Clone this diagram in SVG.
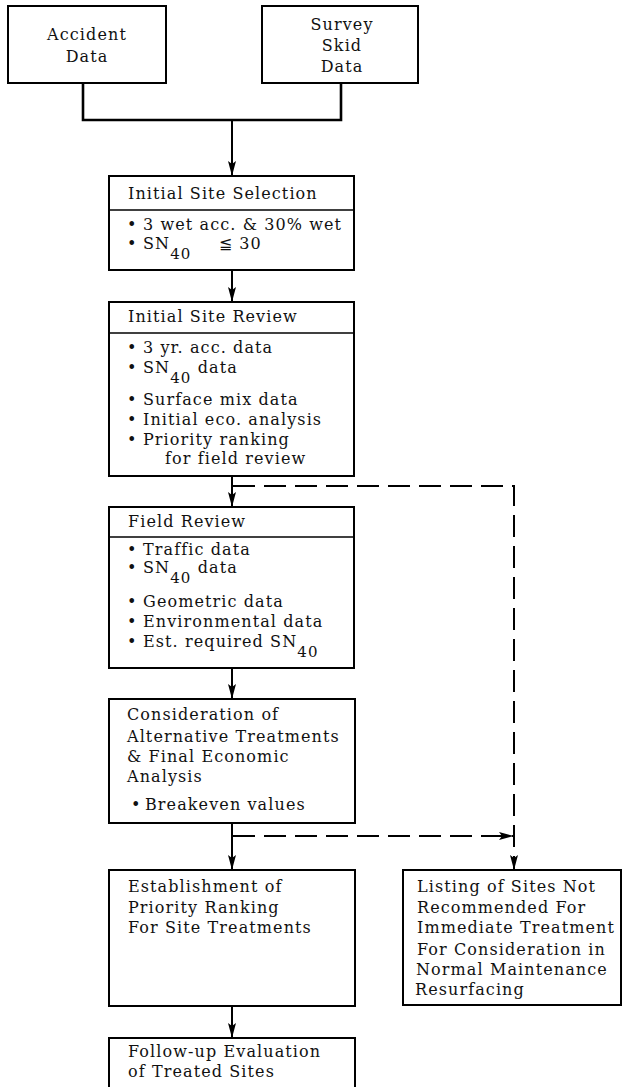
<svg xmlns="http://www.w3.org/2000/svg" width="623" height="1087" viewBox="0 0 623 1087">
<style>
  rect.box { fill: #fff; stroke: #000; stroke-width: 2; }
  line.div { stroke: #000; stroke-width: 1.5; }
  text { font-family: "DejaVu Serif", "Liberation Serif", serif; font-size: 16px; fill: #111; letter-spacing: 1.1px; }
  text.c { text-anchor: middle; }
  tspan.sub { font-size: 15px; }
  .conn { fill: none; stroke: #000; stroke-width: 2; }
  .thick { stroke-width: 2.6; }
  .dash { fill: none; stroke: #000; stroke-width: 2; stroke-dasharray: 22 9; }
</style>
<defs>
  <marker id="arr" markerUnits="userSpaceOnUse" markerWidth="16" markerHeight="10" refX="15" refY="4" orient="auto">
    <path d="M0,0 L15,4 L0,8 L3,4 z" fill="#000"/>
  </marker>
</defs>

<g id="connectors">
  <path class="conn thick" d="M83,83 V120 H341 V83"/>
  <path class="conn" d="M232,120 V176" marker-end="url(#arr)"/>
  <path class="conn" d="M232,270 V302" marker-end="url(#arr)"/>
  <path class="conn" d="M232,476 V507" marker-end="url(#arr)"/>
  <path class="conn" d="M232,668 V699" marker-end="url(#arr)"/>
  <path class="conn" d="M232,823 V870" marker-end="url(#arr)"/>
  <path class="conn" d="M232,1006 V1038" marker-end="url(#arr)"/>
  <path class="dash" d="M233,486 H514 V870" marker-end="url(#arr)"/>
  <path class="dash" d="M233,836 H514" marker-end="url(#arr)"/>
</g>

<g id="accident-data">
  <rect class="box" x="8" y="6" width="158" height="77"/>
  <text class="c" x="87" y="40">Accident</text>
  <text class="c" x="87" y="62">Data</text>
</g>

<g id="survey-skid-data">
  <rect class="box" x="262" y="6" width="156" height="77"/>
  <text class="c" x="342" y="30">Survey</text>
  <text class="c" x="342" y="51">Skid</text>
  <text class="c" x="342" y="72">Data</text>
</g>

<g id="initial-site-selection">
  <rect class="box" x="109" y="176" width="245" height="94"/>
  <line class="div" x1="109" y1="210" x2="354" y2="210"/>
  <text x="128" y="199">Initial Site Selection</text>
  <text x="127" y="230">•</text>
  <text x="143" y="230">3 wet acc. &amp; 30% wet</text>
  <text x="127" y="249">•</text>
  <text x="143" y="249">SN<tspan class="sub" dy="10">40</tspan></text>
  <text x="219" y="249">≦ 30</text>
</g>

<g id="initial-site-review">
  <rect class="box" x="109" y="302" width="245" height="174"/>
  <line class="div" x1="109" y1="333" x2="354" y2="333"/>
  <text x="128" y="322">Initial Site Review</text>
  <text x="127" y="353">•</text>
  <text x="143" y="353">3 yr. acc. data</text>
  <text x="127" y="373">•</text>
  <text x="143" y="373">SN<tspan class="sub" dy="10">40</tspan><tspan dy="-10"> data</tspan></text>
  <text x="127" y="405">•</text>
  <text x="143" y="405">Surface mix data</text>
  <text x="127" y="425">•</text>
  <text x="143" y="425">Initial eco. analysis</text>
  <text x="127" y="445">•</text>
  <text x="143" y="445">Priority ranking</text>
  <text x="165" y="464">for field review</text>
</g>

<g id="field-review">
  <rect class="box" x="109" y="507" width="245" height="161"/>
  <line class="div" x1="109" y1="537" x2="354" y2="537"/>
  <text x="128" y="527">Field Review</text>
  <text x="127" y="555">•</text>
  <text x="143" y="555">Traffic data</text>
  <text x="127" y="573">•</text>
  <text x="143" y="573">SN<tspan class="sub" dy="10">40</tspan><tspan dy="-10"> data</tspan></text>
  <text x="127" y="607">•</text>
  <text x="143" y="607">Geometric data</text>
  <text x="127" y="627">•</text>
  <text x="143" y="627">Environmental data</text>
  <text x="127" y="647">•</text>
  <text x="143" y="647">Est. required SN<tspan class="sub" dy="10">40</tspan></text>
</g>

<g id="consideration">
  <rect class="box" x="109" y="699" width="246" height="124"/>
  <text x="127" y="720">Consideration of</text>
  <text x="127" y="742">Alternative Treatments</text>
  <text x="127" y="762">&amp; Final Economic</text>
  <text x="127" y="782">Analysis</text>
  <text x="131" y="810">•</text>
  <text x="145" y="810">Breakeven values</text>
</g>

<g id="establishment">
  <rect class="box" x="109" y="870" width="246" height="136"/>
  <text x="128" y="892">Establishment of</text>
  <text x="128" y="913">Priority Ranking</text>
  <text x="128" y="933">For Site Treatments</text>
</g>

<g id="listing">
  <rect class="box" x="403" y="870" width="218" height="135"/>
  <text x="417" y="892">Listing of Sites Not</text>
  <text x="417" y="913">Recommended For</text>
  <text x="417" y="933">Immediate Treatment</text>
  <text x="417" y="955">For Consideration in</text>
  <text x="416" y="975">Normal Maintenance</text>
  <text x="415" y="995">Resurfacing</text>
</g>

<g id="follow-up">
  <rect class="box" x="109" y="1038" width="246" height="60"/>
  <text x="128" y="1057">Follow-up Evaluation</text>
  <text x="128" y="1077">of Treated Sites</text>
</g>
</svg>
